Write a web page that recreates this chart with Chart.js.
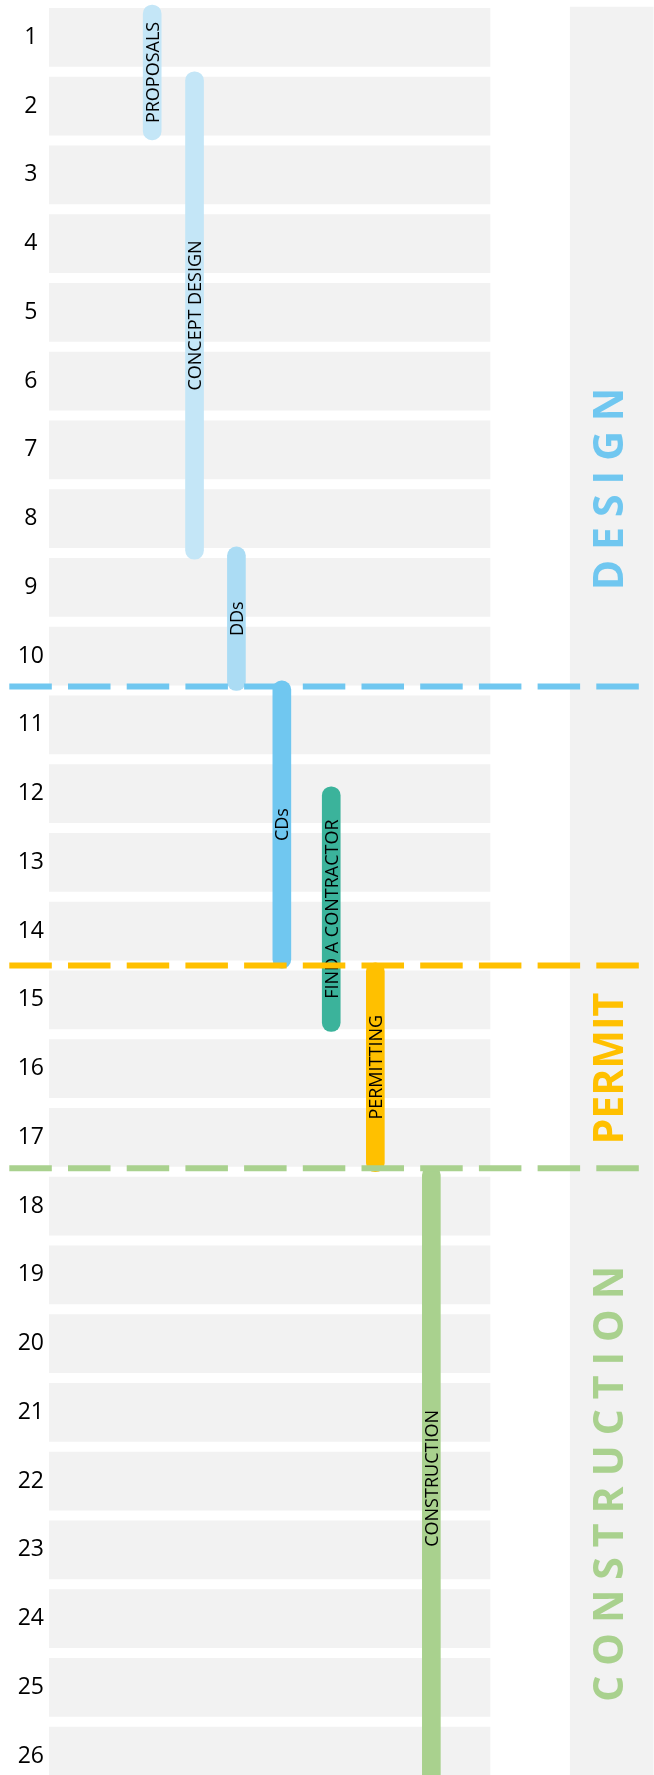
<!DOCTYPE html>
<html>
<head>
<meta charset="utf-8">
<title>Project timeline</title>
<script src="https://cdn.jsdelivr.net/npm/chart.js@4.4.1/dist/chart.umd.min.js"></script>
<style>
  html, body { margin: 0; padding: 0; background: #ffffff; overflow: hidden; }
  #wrap { width: 654px; height: 1775px; }
</style>
</head>
<body>
<div id="wrap"><canvas id="timeline" width="654" height="1775"></canvas></div>
<script>
"use strict";

// Weeks, one row each (top to bottom)
const weeks = [1, 2, 3, 4, 5, 6, 7, 8, 9, 10, 11, 12, 13, 14, 15, 16, 17, 18, 19, 20, 21, 22, 23, 24, 25, 26];

// Tasks: name, column on the x axis, first and last week
const taskNames  = ['PROPOSALS', 'CONCEPT DESIGN', 'DDs', 'CDs', 'FIND A CONTRACTOR', 'PERMITTING', 'CONSTRUCTION'];
const taskColumn = [2.34, 3.30, 4.25, 5.28, 6.40, 7.40, 8.67];
const taskStart  = [0.53, 1.50, 8.41, 10.36, 11.90, 14.46, 17.42];
const taskEnd    = [2.49, 8.59, 10.50, 14.54, 15.46, 17.50, 26.50];

// Phases: name, where the dashed separator sits, where the side label is centred
const phaseNames     = ['DESIGN', 'PERMIT', 'CONSTRUCTION'];
const phaseLine      = [10.44, 14.50, 17.45];
const phaseLabelWeek = [7.57, 16.0, 22.04];

// Row band length (x units) and the side column
const bandRange  = [0, 10];
const sideColumn = 12.76;
const sideRange  = [0.56, 26.5];
const lineRange  = [-0.9, 13.39];

// Styles
const taskColors  = ['#c4e6f7', '#c4e6f7', '#abdcf4', '#70c7f0', '#3bb39b', '#ffc000', '#a9d18e'];
const phaseColors = ['#70c7f0', '#ffc000', '#a9d18e'];
const phaseSpacing = [10, 0, 10];
const PHASE_LABEL_X = 12.69;
const TASKS_INDEX = 2;

Chart.defaults.font.family = "'Open Sans', sans-serif";


// Draw the task names inside the bars (before the dashed lines are drawn over them)
const taskLabels = {
  id: 'taskLabels',
  afterDatasetDraw(chart, args) {
    if (args.index !== TASKS_INDEX) { return; }
    let _ctx = chart.ctx;
    let _size = 18;
    _ctx.save();
    _ctx.font = _size + "px 'Open Sans'";
    _ctx.fillStyle = '#000000';
    _ctx.textAlign = 'center';
    _ctx.textBaseline = 'alphabetic';
    args.meta.data.forEach(function(_bar, _i) {
      let _cy = (_bar.y + _bar.base) / 2;
      _ctx.save();
      _ctx.translate(_bar.x, _cy);
      _ctx.rotate(-Math.PI / 2);
      _ctx.fillText(taskNames[_i], 0, _size * 0.714 / 2);
      _ctx.restore();
    });
    _ctx.restore();
  }
};


// Draw the phase names in the side column, letter spaced
const phaseLabels = {
  id: 'phaseLabels',
  afterDatasetsDraw(chart) {
    let _ctx = chart.ctx;
    let _x = chart.scales.x;
    let _y = chart.scales.y;
    let _size = 41;
    let _cx = _x.getPixelForValue(PHASE_LABEL_X);

    _ctx.save();
    _ctx.font = "bold " + _size + "px 'Open Sans'";
    _ctx.textAlign = 'left';
    _ctx.textBaseline = 'alphabetic';

    phaseNames.forEach(function(_name, _i) {
      let _chars = _name.split('');
      let _widths = _chars.map(function(_c) { return _ctx.measureText(_c).width; });
      let _total = _widths.reduce(function(a, b) { return a + b; }, 0) + phaseSpacing[_i] * (_chars.length - 1);
      let _cy = _y.getPixelForValue(phaseLabelWeek[_i]);

      _ctx.save();
      _ctx.translate(_cx, _cy);
      _ctx.rotate(-Math.PI / 2);
      _ctx.fillStyle = phaseColors[_i];
      let _pos = -_total / 2;
      _chars.forEach(function(_c, _k) {
        _ctx.fillText(_c, _pos, _size * 0.714 / 2);
        _pos += _widths[_k] + phaseSpacing[_i];
      });
      _ctx.restore();
    });
    _ctx.restore();
  }
};


// Dashed separators, one line dataset per phase
const phaseLineSets = phaseLine.map(function(_week, _i) {
  return {
    type: 'line',
    order: 1,
    data: [{ x: lineRange[0], y: _week }, { x: lineRange[1], y: _week }],
    borderColor: phaseColors[_i],
    borderWidth: 6,
    borderDash: [42.5, 16.2],
    borderCapStyle: 'butt',
    pointRadius: 0,
    fill: false,
    clip: false
  };
});


new Chart(document.getElementById('timeline'), {
  type: 'bar',
  data: {
    datasets: [
      {
        // grey band for each week
        type: 'bar',
        order: 4,
        indexAxis: 'y',
        grouped: false,
        data: weeks.map(function(_w) { return { x: bandRange, y: _w }; }),
        backgroundColor: '#f2f2f2',
        borderWidth: 0,
        barThickness: 58
      },
      {
        // side column holding the phase names
        type: 'bar',
        order: 3,
        indexAxis: 'x',
        grouped: false,
        data: [{ x: sideColumn, y: sideRange }],
        backgroundColor: '#f2f2f2',
        borderWidth: 0,
        borderSkipped: false,
        barThickness: 83
      },
      {
        // the tasks
        type: 'bar',
        order: 2,
        indexAxis: 'x',
        grouped: false,
        data: taskNames.map(function(_n, _i) { return { x: taskColumn[_i], y: [taskStart[_i], taskEnd[_i]] }; }),
        backgroundColor: taskColors,
        borderWidth: 0,
        borderRadius: 9,
        borderSkipped: false,
        barThickness: 18
      }
    ].concat(phaseLineSets)
  },
  options: {
    responsive: false,
    animation: false,
    events: [],
    layout: { padding: { top: 3, right: 0, bottom: 0, left: 0 }, autoPadding: false },
    plugins: {
      legend: { display: false },
      tooltip: { enabled: false }
    },
    scales: {
      x: {
        type: 'linear',
        display: false,
        offset: false,
        min: 0,
        max: 13.719,
        grid: { display: false, offset: false }
      },
      y: {
        type: 'linear',
        reverse: true,
        offset: false,
        min: 0.5,
        max: 26.274,
        grid: { display: false, drawTicks: false, offset: false },
        border: { display: false },
        ticks: {
          autoSkip: false,
          crossAlign: 'center',
          padding: 5,
          color: '#000000',
          font: { family: "'Open Sans', sans-serif", size: 23 }
        },
        afterBuildTicks: function(_scale) {
          _scale.ticks = weeks.map(function(_w) { return { value: _w }; });
        },
        afterFit: function(_scale) {
          _scale.width = 49;
          _scale.paddingTop = 0;
          _scale.paddingBottom = 0;
        }
      }
    }
  },
  plugins: [taskLabels, phaseLabels]
});
</script>
</body>
</html>
